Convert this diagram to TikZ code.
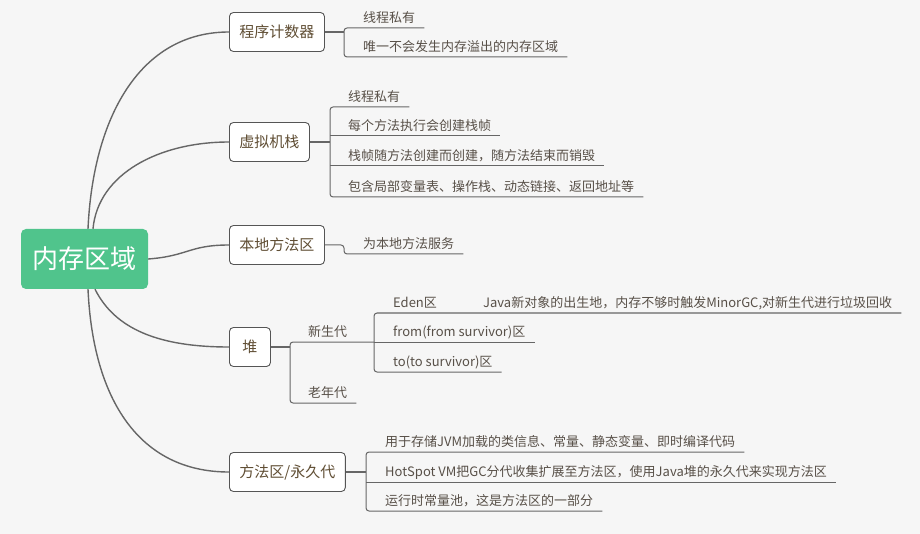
\documentclass[tikz,border=0pt]{standalone}
\usepackage{fontspec}
\usepackage{tikz}
\usetikzlibrary{positioning,calc}
\newfontfamily\cjk{Noto Sans CJK SC}
\definecolor{bgc}{HTML}{F6F6F6}
\definecolor{rootc}{HTML}{50C48C}
\definecolor{linec}{HTML}{666666}
\definecolor{framec}{HTML}{555555}
\definecolor{boxtext}{RGB}{96,78,52}
\definecolor{leaftext}{RGB}{88,80,72}

\begin{document}
\begin{tikzpicture}[
    x=1pt, y=-1pt,
    rootbox/.style={rectangle, fill=rootc, rounded corners=5pt, minimum width=127pt, minimum height=60pt, text=white, font=\cjk\fontsize{26pt}{30pt}\selectfont},
    branch/.style={rectangle, draw=framec, line width=0.9pt, fill=white, rounded corners=4pt, anchor=west, minimum height=39pt, inner xsep=10pt, text=boxtext, font=\cjk\fontsize{15pt}{18pt}\selectfont},
    leaf/.style={anchor=south west, inner sep=0pt, text height=10pt, text depth=5pt, text=leaftext, font=\cjk\fontsize{13pt}{15pt}\selectfont},
    curve/.style={draw=linec, line width=1.4pt},
    stem/.style={draw=linec, line width=1.3pt},
    link/.style={draw=linec, line width=1pt, rounded corners=3pt},
  ]
    \fill[bgc] (0,0) rectangle (920,534);

    % Root
    \node[rootbox] (root) at (84.5,259) {内存区域};

    % Branches
    \node[branch] (pc) at (229,32) {程序计数器};
    \node[branch] (vm) at (229,142) {虚拟机栈};
    \node[branch] (nm) at (229,245) {本地方法区};
    \node[branch, minimum width=41pt] (heap) at (229,347) {堆};
    \node[branch] (ma) at (229,472) {方法区/永久代};

    % Root to branches
    \draw[curve] ([xshift=3.5pt]root.north) .. controls +(5,-110) and +(-90,0) .. (pc.west);
    \draw[curve] ([xshift=8.5pt]root.north) .. controls +(5,-55) and +(-70,0) .. (vm.west);
    \draw[curve] (root.east) .. controls +(40,-3) and +(-40,0) .. (nm.west);
    \draw[curve] ([xshift=10.5pt]root.south) .. controls +(20,40) and +(-70,0) .. (heap.west);
    \draw[curve] ([xshift=3.5pt]root.south) .. controls +(5,110) and +(-90,0) .. (ma.west);

    % Program counter
    \coordinate (pcj) at (344,32);
    \node[leaf] (pc1) at (363,28) {线程私有};
    \node[leaf] (pc2) at (363,57) {唯一不会发生内存溢出的内存区域};
    \draw[stem] (pc.east) -- (pcj);
    \draw[link] ([xshift=9pt]pc1.south east) -- (pcj |- pc1.south) -- (pcj |- pc2.south) -- ([xshift=9pt]pc2.south east);

    % VM stack
    \coordinate (vmj) at (330,142);
    \node[leaf] (vm1) at (348,107) {线程私有};
    \node[leaf] (vm2) at (348,136) {每个方法执行会创建栈帧};
    \node[leaf] (vm3) at (348,166) {栈帧随方法创建而创建，随方法结束而销毁};
    \node[leaf] (vm4) at (348,197) {包含局部变量表、操作栈、动态链接、返回地址等};
    \draw[stem] (vm.east) -- (vmj);
    \draw[link] ([xshift=9pt]vm1.south east) -- (vmj |- vm1.south) -- (vmj |- vm4.south) -- ([xshift=9pt]vm4.south east);
    \draw[link] (vmj |- vm2.south) -- ([xshift=9pt]vm2.south east);
    \draw[link] (vmj |- vm3.south) -- ([xshift=9pt]vm3.south east);

    % Native method area
    \coordinate (nmj) at (344,245);
    \node[leaf] (nm1) at (363,254) {为本地方法服务};
    \draw[link] (nm.east) -- (nmj) -- (nmj |- nm1.south) -- ([xshift=9pt]nm1.south east);

    % Heap
    \coordinate (hj) at (290,347);
    \coordinate (yj) at (374,342);
    \node[leaf] (young) at (308,342) {新生代};
    \node[leaf] (old) at (308,403) {老年代};
    \node[leaf] (eden) at (393,313) {Eden区};
    \node[leaf] (java) at (483,313) {Java新对象的出生地，内存不够时触发MinorGC,对新生代进行垃圾回收};
    \node[leaf] (from) at (393,342) {from(from survivor)区};
    \node[leaf] (to) at (393,372) {to(to survivor)区};
    \draw[stem] (heap.east) -- (hj);
    \draw[link] (yj) -- (hj |- young.south) -- (hj |- old.south) -- ([xshift=9pt]old.south east);
    \draw[link] ([xshift=9pt]java.south east) -- (yj |- eden.south) -- (yj |- to.south) -- ([xshift=9pt]to.south east);
    \draw[link] (yj) -- ([xshift=9pt]from.south east);

    % Method area
    \coordinate (maj) at (366,472);
    \node[leaf] (ma1) at (385,452) {用于存储JVM加载的类信息、常量、静态变量、即时编译代码};
    \node[leaf] (ma2) at (385,482) {HotSpot VM把GC分代收集扩展至方法区，使用Java堆的永久代来实现方法区};
    \node[leaf] (ma3) at (385,511) {运行时常量池，这是方法区的一部分};
    \draw[stem] (ma.east) -- (maj);
    \draw[link] ([xshift=9pt]ma1.south east) -- (maj |- ma1.south) -- (maj |- ma3.south) -- ([xshift=9pt]ma3.south east);
    \draw[link] (maj |- ma2.south) -- ([xshift=9pt]ma2.south east);
  \end{tikzpicture}
\end{document}
